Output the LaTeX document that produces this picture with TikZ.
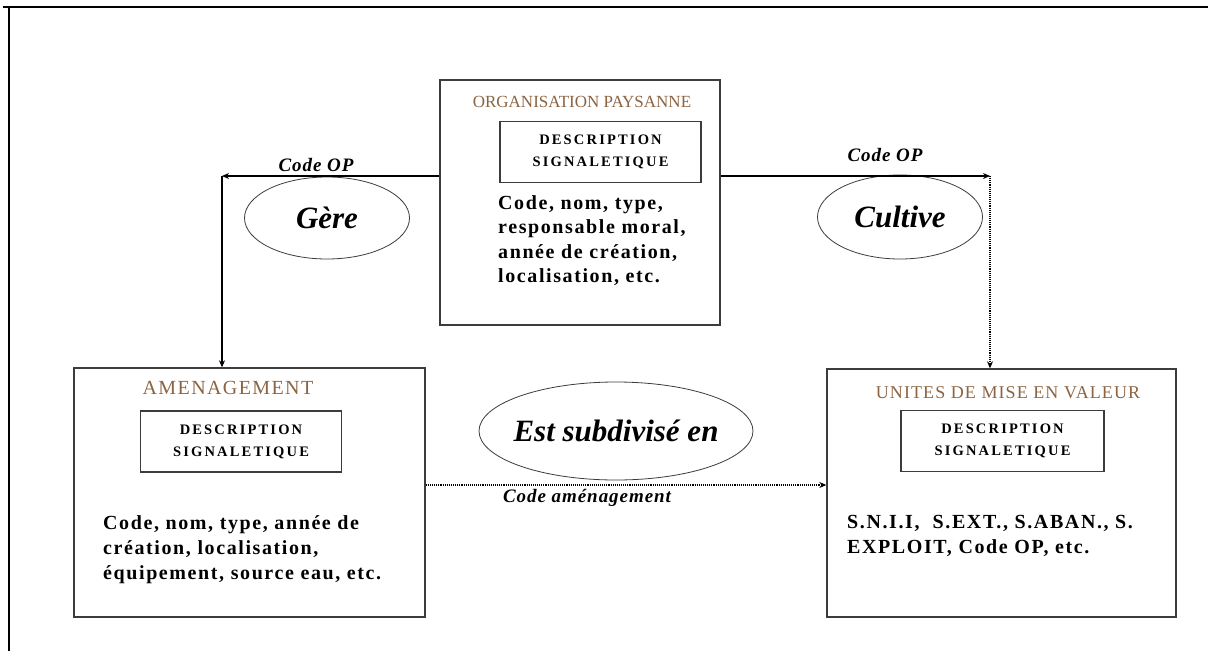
\documentclass[tikz,border=0pt]{standalone}
\usepackage{fontspec}
\setmainfont{Liberation Serif}
\newfontfamily\descfont[LetterSpace=15]{Liberation Serif}
\newfontfamily\bodyfont[LetterSpace=8]{Liberation Serif}
\newfontfamily\unfont[LetterSpace=6]{Liberation Serif}
\newfontfamily\amfont[LetterSpace=7]{Liberation Serif}
\newfontfamily\labfont[LetterSpace=5]{Liberation Serif}
\usetikzlibrary{arrows.meta,shapes.geometric}
\definecolor{titlecol}{RGB}{140,100,65}
\definecolor{linecol}{RGB}{60,60,60}
\tikzset{
  x=1pt,y=-1pt,
  entity/.style={draw=linecol,line width=1.4pt,minimum width=#1,inner sep=0pt},
  desc/.style={draw=linecol,line width=1.2pt,minimum width=201pt,minimum height=61pt,inner sep=0pt,align=center,font=\descfont\bfseries\fontsize{14.5}{22}\selectfont},
  etitle/.style={text=titlecol,inner sep=0pt},
  body/.style={anchor=north west,align=left,inner sep=0pt,font=\bodyfont\bfseries\fontsize{20}{24.5}\selectfont},
  rel/.style={draw=linecol,line width=0.8pt,ellipse,inner sep=0pt,font=\bfseries\itshape\fontsize{31}{34}\selectfont},
  lab/.style={font=\labfont\bfseries\itshape\fontsize{19}{22}\selectfont,inner sep=0pt},
  conn/.style={line width=1.1pt,-{Stealth[length=7pt,width=6pt]}},
  dconn/.style={line width=1.1pt,densely dotted,-{Stealth[length=7pt,width=6pt]}},
}
\begin{document}
\begin{tikzpicture}
\useasboundingbox (0,0) rectangle (1208,651);
\fill[white] (0,0) rectangle (1208,651);
% outer frame (top and left only)
\draw[line width=2pt] (3,7) -- (1208,7);
\draw[line width=1.5pt] (9,7) -- (9,651);

% entity boxes
\node[entity=280pt,minimum height=245pt] (op) at (580,202.5) {};
\node[entity=351pt,minimum height=249pt] (am) at (249.5,492.5) {};
\node[entity=349pt,minimum height=248pt] (un) at (1001.5,493) {};

% titles
\node[etitle,font=\fontsize{17}{20}\selectfont] (opt) at (582,102) {ORGANISATION PAYSANNE};
\node[etitle,font=\amfont\fontsize{20}{23}\selectfont] (amt) at (228,388) {AMENAGEMENT};
\node[etitle,font=\unfont\fontsize{18}{21}\selectfont] (unt) at (1008,393) {UNITES DE MISE EN VALEUR};

% description boxes
\node[desc] (opd) at (600.5,152) {DESCRIPTION\\SIGNALETIQUE};
\node[desc] (amd) at (241,441.5) {DESCRIPTION\\SIGNALETIQUE};
\node[desc,minimum width=203pt] (und) at (1002.5,441) {DESCRIPTION\\SIGNALETIQUE};

% attribute texts
\node[body] (opb) at (498,195) {Code, nom, type,\\responsable moral,\\année de création,\\localisation, etc.};
\node[body,font=\bodyfont\bfseries\fontsize{20}{25}\selectfont] (amb) at (103,515) {Code, nom, type, année de\\création, localisation,\\équipement, source eau, etc.};
\node[body,font=\bodyfont\bfseries\fontsize{20}{25}\selectfont] (unb) at (847,515) {S.N.I.I,\ \ S.EXT., S.ABAN., S.\\EXPLOIT, Code OP, etc.};

% relationship ellipses
\node[rel,minimum width=165pt,minimum height=82pt] (gere) at (327,218) {Gère};
\node[rel,minimum width=165pt,minimum height=84pt] (cult) at (900,217) {Cultive};
\node[rel,inner xsep=-8pt,minimum width=274pt,minimum height=98pt] (subd) at (616,431) {Est subdivisé en};

% connectors
\coordinate (cl) at (222,176);
\coordinate (cr) at (990,176);
\draw[conn] (op.west |- cl) -- (cl);
\draw[conn] (cl) -- (cl |- am.north);
\draw[conn] (op.east |- cr) -- (cr);
\draw[dconn] (cr) -- (cr |- un.north);
\coordinate (ha) at (425,485);
\draw[dconn] (am.east |- ha) -- (un.west |- ha);

% connector labels
\node[lab] (l1) at (316,165) {Code OP};
\node[lab] (l2) at (885,155) {Code OP};
\node[lab] (l3) at (587,498) {Code aménagement};
\end{tikzpicture}
\end{document}
